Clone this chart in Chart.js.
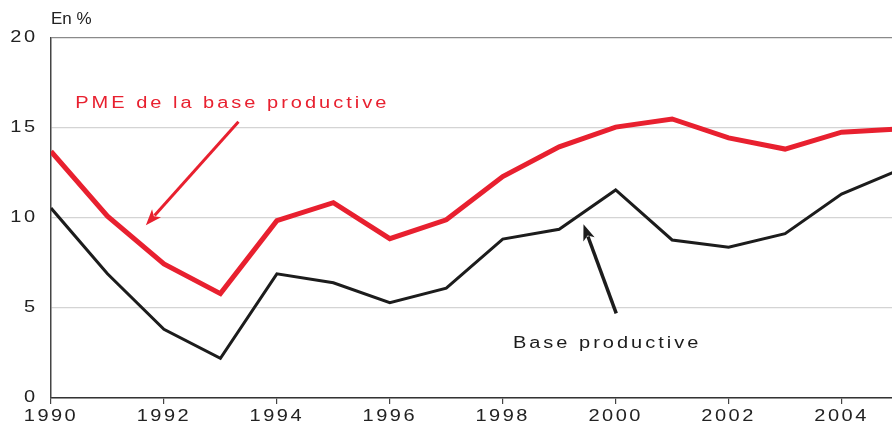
<!DOCTYPE html>
<html>
<head>
<meta charset="utf-8">
<script src="https://cdn.jsdelivr.net/npm/chart.js@4.4.1/dist/chart.umd.min.js"></script>
<style>
  html, body { margin: 0; padding: 0; background: #fff; overflow: hidden; }
  #wrap { width: 898px; height: 426px; }
</style>
</head>
<body>
<div id="wrap"><canvas id="taux"></canvas></div>
<script>
// Annual series, in %
const years = [1990, 1991, 1992, 1993, 1994, 1995, 1996, 1997, 1998, 1999, 2000, 2001, 2002, 2003, 2004, 2005];
const pmeSeries = [13.7, 10.1, 7.45, 5.8, 9.85, 10.85, 8.85, 9.9, 12.3, 13.95, 15.05, 15.5, 14.45, 13.83, 14.77, 14.95];
const baseSeries = [10.55, 6.9, 3.82, 2.2, 6.9, 6.4, 5.3, 6.1, 8.83, 9.37, 11.56, 8.78, 8.38, 9.13, 11.33, 12.65];
const yTicks = [0, 5, 10, 15, 20];

const RED = '#e8202f';
const INK = '#1c1c1c';
const FONT = "'Liberation Sans', Arial, sans-serif";
const WIDE = 1.25;   // horizontal stretch of the lettering

// Callout labels and arrows, in data coordinates
const callouts = [
  { text: 'PME de la base productive', color: RED, x: 1990.43, y: 16.33,
    from: [1993.32, 15.35], to: [1991.68, 9.6], width: 3 },
  { text: 'Base productive', color: INK, x: 1998.18, y: 3.05,
    from: [2000.01, 4.7], to: [1999.43, 9.65], width: 3.5 },
];

// wide, tracked lettering: scale each text run around its anchor
const lettering = {
  id: 'lettering',
  beforeInit(chart) {
    const ctx = chart.ctx;
    const fill = ctx.fillText;
    ctx._textScale = WIDE;
    ctx.fillText = function (t, x, y, mw) {
      const s = this._textScale || 1;
      if (s === 1) return fill.call(this, t, x, y, mw);
      this.save();
      this.translate(x, y); this.scale(s, 1);
      fill.call(this, t, 0, 0, mw);
      this.restore();
    };
  },
  beforeDraw(chart) { chart.ctx.letterSpacing = '2px'; chart.ctx._textScale = WIDE; },
};

function arrow(ctx, x1, y1, x2, y2, color, w) {
  const a = Math.atan2(y2 - y1, x2 - x1);
  const len = 16, half = 6;
  const bx = x2 - Math.cos(a) * len, by = y2 - Math.sin(a) * len;
  ctx.strokeStyle = color; ctx.lineWidth = w; ctx.lineCap = 'butt';
  ctx.beginPath(); ctx.moveTo(x1, y1); ctx.lineTo(bx + Math.cos(a) * 3, by + Math.sin(a) * 3); ctx.stroke();
  ctx.fillStyle = color;
  ctx.beginPath();
  ctx.moveTo(x2, y2);
  ctx.lineTo(bx - Math.sin(a) * half, by + Math.cos(a) * half);
  ctx.lineTo(bx + Math.cos(a) * 4, by + Math.sin(a) * 4);
  ctx.lineTo(bx + Math.sin(a) * half, by - Math.cos(a) * half);
  ctx.closePath(); ctx.fill();
}

const annotations = {
  id: 'annotations',
  afterDraw(chart) {
    const { ctx, scales: { x, y } } = chart;
    ctx.save();
    ctx._textScale = 1;
    ctx.letterSpacing = '0px';
    ctx.font = `17px ${FONT}`;
    ctx.fillStyle = '#222';
    ctx.textAlign = 'left'; ctx.textBaseline = 'middle';
    ctx.fillText('En %', chart.chartArea.left, 19);
    ctx.font = `16px ${FONT}`;
    ctx._textScale = WIDE;
    ctx.letterSpacing = '2.4px';
    for (const c of callouts) {
      ctx.fillStyle = c.color;
      ctx.fillText(c.text, x.getPixelForValue(c.x), y.getPixelForValue(c.y));
      arrow(ctx, x.getPixelForValue(c.from[0]), y.getPixelForValue(c.from[1]),
        x.getPixelForValue(c.to[0]), y.getPixelForValue(c.to[1]), c.color, c.width);
    }
    ctx.restore();
  }
};

new Chart(document.getElementById('taux'), {
  type: 'line',
  data: {
    labels: years,
    datasets: [
      { label: 'PME de la base productive', data: years.map((yr, i) => ({ x: yr, y: pmeSeries[i] })),
        borderColor: RED, borderWidth: 5, pointRadius: 0, tension: 0, clip: 0, borderJoinStyle: 'miter' },
      { label: 'Base productive', data: years.map((yr, i) => ({ x: yr, y: baseSeries[i] })),
        borderColor: INK, borderWidth: 3, pointRadius: 0, tension: 0, clip: 0, borderJoinStyle: 'miter' },
    ]
  },
  options: {
    responsive: true, maintainAspectRatio: false,
    animation: false,
    layout: { padding: { top: 38, left: 0, right: 0, bottom: 0 } },
    plugins: { legend: { display: false }, tooltip: { enabled: false } },
    scales: {
      x: {
        type: 'linear', min: 1990, max: 2005,
        afterBuildTicks(scale) { scale.ticks = years.filter(v => v % 2 === 0).map(v => ({ value: v })); },
        afterFit(scale) { scale.height = 28; },
        grid: { drawOnChartArea: false, drawTicks: true, tickLength: 6, color: '#444', lineWidth: 1.2 },
        border: { display: true, color: '#333', width: 1.5 },
        ticks: { color: '#222', font: { family: FONT, size: 16 }, padding: 3, maxRotation: 0,
          callback: v => String(v) },
      },
      y: {
        min: 0, max: 20,
        afterBuildTicks(scale) { scale.ticks = yTicks.map(v => ({ value: v })); },
        afterFit(scale) { scale.width = 51; },
        grid: { drawTicks: false, color: ctx => ctx.tick.value === 20 ? '#8a8a8a' : '#d4d4d4', lineWidth: 1.2 },
        border: { display: true, color: '#444', width: 1.5 },
        ticks: { color: '#222', font: { family: FONT, size: 16 }, padding: 13.5 },
      }
    }
  },
  plugins: [lettering, annotations]
});
</script>
</body>
</html>
